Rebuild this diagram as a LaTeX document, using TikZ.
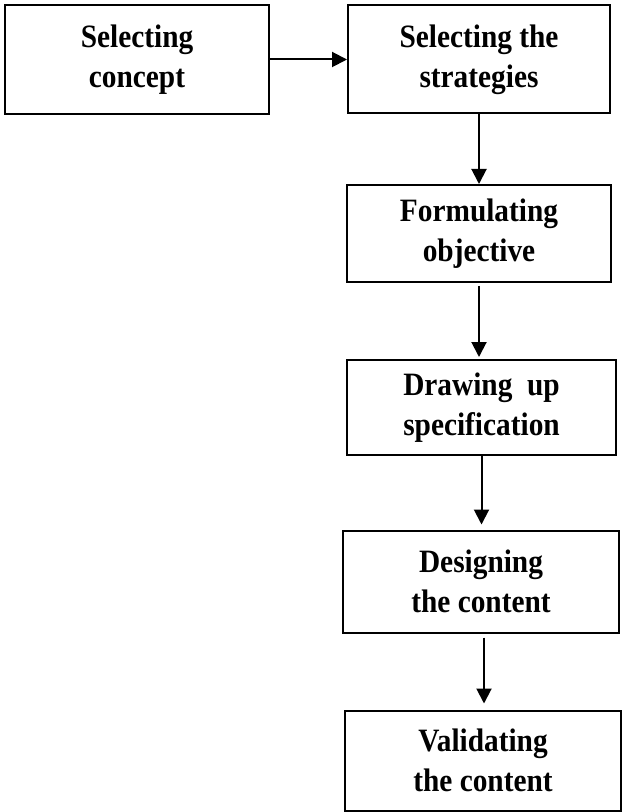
\documentclass[tikz,border=0pt]{standalone}
\usepackage{fontspec}
\setmainfont{Liberation Serif}[FakeStretch=0.9]
\usepackage{tikz}
\usetikzlibrary{arrows.meta}
\tikzstyle{boxStep} = [rectangle, minimum width=132pt, minimum height=48.5pt, align=center, draw=black, fill=white, line width=1pt, font=\fontsize{16.3pt}{20pt}\selectfont\bfseries]
\tikzstyle{arrow} = [line width=1pt, -{Triangle[length=7.5pt, width=7.5pt]}]

\begin{document}
\begin{tikzpicture}[x=0.5pt, y=-0.5pt, node distance=87pt]
\useasboundingbox (0,0) rectangle (622,812);

\node (selconcept) [boxStep, minimum width=132pt, minimum height=54.5pt] at (137,59.5) {Selecting\\concept};

\node (selstrategies) [boxStep, right of=selconcept, xshift=84pt, minimum width=131pt, minimum height=54pt] {Selecting the\\strategies};

\node (formulating) [boxStep, below of=selstrategies] {Formulating\\objective};

\node (drawing) [boxStep, below of=formulating, xshift=1.25pt, minimum width=134.5pt, minimum height=47.5pt] {Drawing~~up\\specification};

\node (designing) [boxStep, below of=drawing, xshift=-0.25pt, minimum width=138pt, minimum height=51pt] {Designing\\the content};

\node (validating) [boxStep, below of=designing, xshift=1pt, yshift=-2.5pt, minimum width=138pt, minimum height=50pt] {Validating\\the content};

\draw [arrow] (selconcept.east) -- (selstrategies.west);
\draw [arrow] (selstrategies.south) -- (formulating.north);
\draw [arrow, shorten <=1.5pt, shorten >=1pt] (formulating.south) -- (formulating.south |- drawing.north);
\draw [arrow, shorten >=2.5pt] (drawing.south) -- (drawing.south |- designing.north);
\draw [arrow, shorten <=2pt, shorten >=3pt] ([xshift=1.5pt]designing.south) -- ([xshift=1.5pt]designing.south |- validating.north);

\end{tikzpicture}
\end{document}
